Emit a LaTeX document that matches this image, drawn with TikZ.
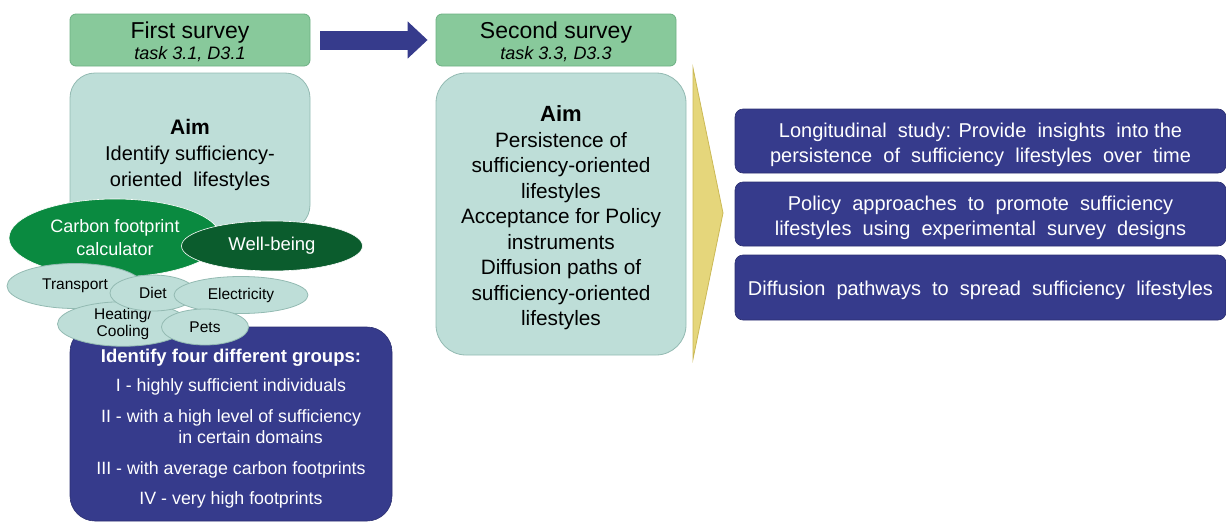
\documentclass[tikz,border=0pt]{standalone}
\usepackage{fontspec}
\setmainfont{Liberation Sans}
\usetikzlibrary{arrows.meta,shapes.geometric}
\definecolor{hdr}{HTML}{88C99B}
\definecolor{hdrb}{HTML}{6DB083}
\definecolor{aimf}{HTML}{BEDED8}
\definecolor{aimb}{HTML}{93BAB2}
\definecolor{navy}{HTML}{363B8C}
\definecolor{cfp}{HTML}{0A8A40}
\definecolor{wb}{HTML}{0B5C2D}
\definecolor{chev}{HTML}{E5D67B}
\definecolor{chevb}{HTML}{CBB956}
\tikzset{
  hdrbox/.style={draw=hdrb, fill=hdr, line width=0.8pt, rounded corners=6pt, minimum width=240pt, minimum height=52pt, inner sep=0pt},
  hdrtext/.style={inner sep=0pt, align=center, font=\fontsize{23}{21}\selectfont},
  aimbox/.style={draw=aimb, fill=aimf, line width=0.8pt, inner sep=0pt},
  navybox/.style={draw=navy!80!black, fill=navy, line width=0.6pt, inner sep=0pt},
  rbox/.style={navybox, rounded corners=8pt, minimum width=491pt, minimum height=64pt},
  rtext/.style={inner sep=0pt, align=center, text=white, font=\fontsize{20}{25}\selectfont},
  bigell/.style={ellipse, draw=white, line width=0.6pt, inner sep=0pt, text=white, align=center},
  smell/.style={ellipse, draw=aimb, fill=aimf, line width=0.8pt, inner sep=0pt, align=center,
     font=\fontsize{15.5}{17}\selectfont},
}
\begin{document}
\begin{tikzpicture}[x=1pt,y=-1pt]
\useasboundingbox (0,0) rectangle (1226,522);

% headers
\node[hdrbox] (h1) at (190,40) {};
\node[hdrtext] (h1t) at (190,42) {First survey\\{\fontsize{18}{20}\selectfont\itshape task 3.1, D3.1}};
\node[hdrbox] (h2) at (556,40) {};
\node[hdrtext] (h2t) at (556,42) {Second survey\\{\fontsize{18}{20}\selectfont\itshape task 3.3, D3.3}};
\draw[navy, line width=19pt, shorten <=10pt, shorten >=8pt,
  -{Triangle[length=20pt, width=36pt]}] (h1.east) -- (h2.west);

% aim boxes
\node[aimbox, rounded corners=25pt, minimum width=240pt, minimum height=157pt] (aim1) at (190,151.5) {};
\node[inner sep=0pt, align=center, font=\fontsize{20}{26}\selectfont] (aim1t) at (190,155)
  {{\fontsize{21}{26}\selectfont\bfseries Aim}\\Identify\ sufficiency-\\oriented\ \ lifestyles};

\node[aimbox, rounded corners=30pt, minimum width=250pt, minimum height=282pt] (aim2) at (561,214) {};
\node[inner sep=0pt, align=center, font=\fontsize{20.8}{25.5}\selectfont] (aim2t) at (561,218)
  {{\fontsize{22}{25.5}\selectfont\bfseries Aim}\\
   Persistence\ of\\
   sufficiency-oriented\\
   lifestyles\\
   Acceptance\ for\ Policy\\
   instruments\\
   Diffusion\ paths\ of\\
   sufficiency-oriented\\
   lifestyles};

% groups box
\node[navybox, rounded corners=25pt, minimum width=322pt, minimum height=194pt] (grp) at (231,424) {};
\node[inner sep=0pt, align=center, text=white, font=\fontsize{17.8}{21}\selectfont] (grpt) at (231,429)
  {{\fontsize{18.5}{21}\selectfont\bfseries Identify four different groups:}\\[8pt]
   I - highly sufficient individuals\\[10pt]
   II - with a high level of sufficiency\\
   \hspace*{2.2em}in certain domains\\[10pt]
   III - with average carbon footprints\\[9pt]
   IV - very high footprints};

% ellipses
\node[bigell, fill=cfp, minimum width=212pt, minimum height=78pt, font=\fontsize{18}{23}\selectfont] (cfp) at (115,238)
  {Carbon footprint\\calculator};
\node[bigell, fill=wb, minimum width=181pt, minimum height=50pt, font=\fontsize{18.5}{20}\selectfont] (wb) at (272,246)
  {Well-being};
\node[smell, minimum width=136pt, minimum height=45pt] (tr) at (75,286) {Transport};
\node[smell, minimum width=131pt, minimum height=42pt] (hc) at (123,324) {Heating/\\Cooling};
\node[smell, minimum width=86pt, minimum height=36pt] (diet) at (153,293) {Diet};
\node[smell, minimum width=134pt, minimum height=37pt] (el) at (241,295) {Electricity};
\node[smell, minimum width=87pt, minimum height=36pt] (pets) at (205,327) {Pets};

% chevron
\fill[chev, draw=chevb, line width=0.8pt] (693,68) -- (723,213) -- (693,359) -- cycle;

% right boxes
\node[rbox] (r1) at (980.5,141) {};
\node[rtext] (r1t) at (980.5,145)
  {Longitudinal\ \ study: Provide\ \ insights\ \ into\ the\\
   persistence\ \ of\ \ sufficiency\ \ lifestyles\ \ over\ \ time};
\node[rbox] (r2) at (980.5,214) {};
\node[rtext] (r2t) at (980.5,218)
  {Policy\ \ approaches\ \ to\ \ promote\ \ sufficiency\\
   lifestyles\ \ using\ \ experimental\ \ survey\ \ designs};
\node[rbox, minimum height=65pt] (r3) at (980.5,287.5) {};
\node[rtext] (r3t) at (980.5,290.5)
  {Diffusion\ \ pathways\ \ to\ \ spread\ \ sufficiency\ \ lifestyles};
\end{tikzpicture}
\end{document}
